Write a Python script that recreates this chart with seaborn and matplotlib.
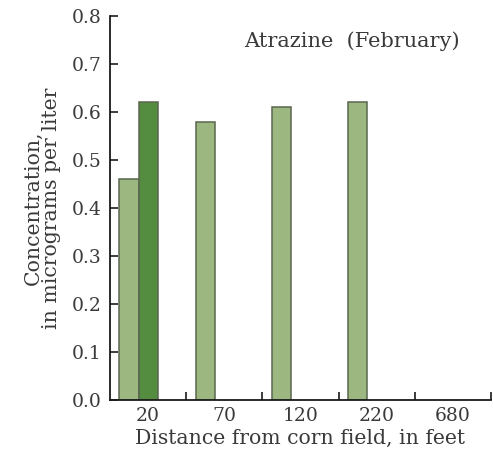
import matplotlib
matplotlib.use("Agg")
import matplotlib.pyplot as plt
import seaborn as sns
import pandas as pd
import numpy as np
from matplotlib.ticker import FixedLocator

distances = ["20", "70", "120", "220", "680"]
light_values = [0.46, 0.58, 0.61, 0.62, np.nan]
dark_values = [0.62, np.nan, np.nan, np.nan, np.nan]
yticks = [0.0, 0.1, 0.2, 0.3, 0.4, 0.5, 0.6, 0.7, 0.8]

df = pd.DataFrame({
    "distance": distances * 2,
    "series": ["light"] * 5 + ["dark"] * 5,
    "value": light_values + dark_values,
})

sns.set_theme(style="white")
plt.rcParams["font.family"] = ["DejaVu Serif"]

fig = plt.figure(figsize=(4.93, 4.58), dpi=100)
ax = fig.add_axes([0.223, 0.127, 0.773, 0.838])

sns.barplot(data=df, x="distance", y="value", hue="series", order=distances,
            hue_order=["light", "dark"],
            palette={"light": "#9cb880", "dark": "#548c40"}, saturation=1,
            width=0.5, edgecolor="#5a6650", linewidth=1.1, ax=ax, legend=False)

n = len(distances)
ax.set_xlim(-0.375, n - 1 + 0.625)
ax.set_ylim(0, 0.8)
ax.set_xticks([i + 0.125 for i in range(n)])
ax.set_xticklabels(distances)
ax.xaxis.set_minor_locator(FixedLocator([i + 0.625 for i in range(n)]))
ax.set_yticks(yticks)
ax.set_yticklabels([f"{t:.1f}" for t in yticks])

for s in ["top", "right"]:
    ax.spines[s].set_visible(False)
for s in ["left", "bottom"]:
    ax.spines[s].set_color("#1a1a1a")
    ax.spines[s].set_linewidth(1.3)

ax.tick_params(axis="y", direction="in", length=6, width=1.2, color="#1a1a1a",
               labelsize=13.5, labelcolor="#3a3a3a", pad=6, left=True)
ax.tick_params(axis="x", which="major", length=0, labelsize=13.5,
               labelcolor="#3a3a3a", pad=5)
ax.tick_params(axis="x", which="minor", direction="in", length=6, width=1.2,
               color="#1a1a1a", bottom=True)

ax.set_xlabel("Distance from corn field, in feet", fontsize=14.7,
              color="#3a3a3a", labelpad=3)
ax.set_ylabel("Concentration,\nin micrograms per liter", fontsize=14.7,
              color="#3a3a3a", labelpad=8, linespacing=0.95)

ax.text(0.918, 0.935, "Atrazine  (February)", transform=ax.transAxes,
        ha="right", va="center", fontsize=15, color="#3a3a3a")

ax.grid(False)
fig.savefig("out.png", dpi=100)
